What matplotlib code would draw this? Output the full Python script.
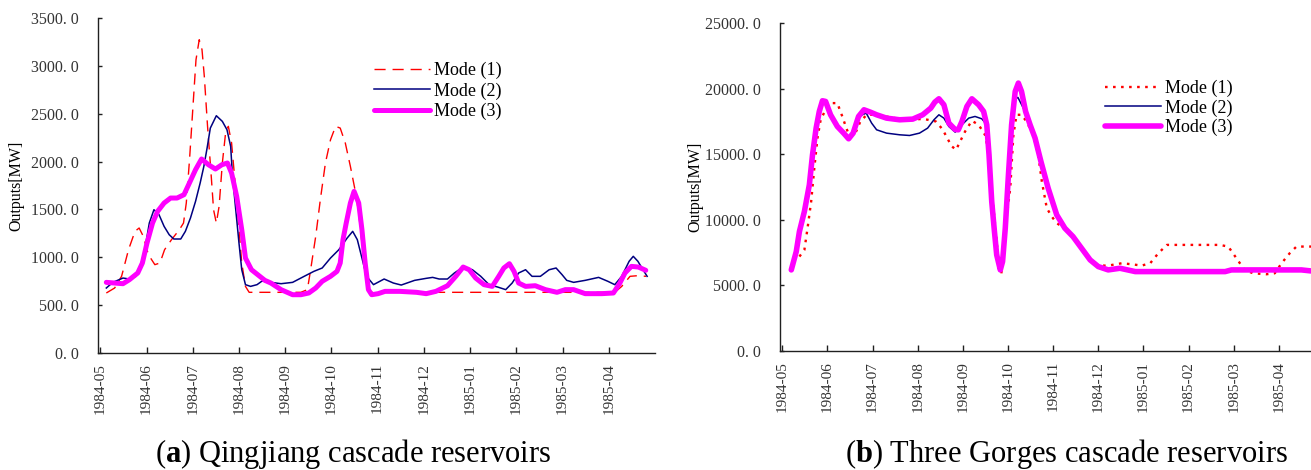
import matplotlib
matplotlib.use("Agg")
import matplotlib.pyplot as plt

plt.rcParams["font.family"] = ["Liberation Serif", "DejaVu Serif"]
plt.rcParams["mathtext.fontset"] = "custom"
plt.rcParams["mathtext.rm"] = "Liberation Serif"
plt.rcParams["mathtext.bf"] = "Liberation Serif:bold"

# ---- month labels (tick at the start of each month) ----
month_labels = ["1984-05", "1984-06", "1984-07", "1984-08", "1984-09", "1984-10",
                "1984-11", "1984-12", "1985-01", "1985-02", "1985-03", "1985-04"]

# ---- Qingjiang cascade reservoirs: time in months from 1984-05, outputs in MW ----
qj_mode1_t = [0.13, 0.31, 0.46, 0.61, 0.75, 0.84, 0.93, 1.04, 1.18, 1.29, 1.39, 1.54, 1.71,
              1.80, 1.86, 1.93, 2.00, 2.07, 2.14, 2.20, 2.25, 2.32, 2.39, 2.45, 2.51, 2.57,
              2.64, 2.71, 2.77, 2.84, 2.91, 2.99, 3.06, 3.14, 3.22, 3.36, 4.05, 4.34, 4.48,
              4.55, 4.66, 4.76, 4.87, 4.98, 5.09, 5.19, 5.30, 5.41, 5.51, 5.59, 5.66, 5.73,
              5.80, 5.87, 11.13, 11.28, 11.46, 11.63, 11.81]
qj_mode1_v = [627, 679, 801, 1079, 1271, 1306, 1219, 1027, 923, 940, 1079, 1184, 1288,
              1358, 1567, 2020, 2542, 3064, 3273, 3169, 2890, 2368, 1915, 1497, 1358, 1532,
              1985, 2298, 2368, 2194, 1811, 1358, 940, 696, 634, 634, 634, 634, 662,
              870, 1219, 1602, 1985, 2228, 2368, 2350, 2194, 1950, 1706, 1462, 1149, 836,
              644, 634, 634, 696, 801, 808, 801]

qj_mode2_t = [0.13, 0.27, 0.49, 0.63, 0.77, 0.84, 0.95, 1.06, 1.16, 1.27, 1.38, 1.49, 1.59,
              1.74, 1.84, 1.95, 2.06, 2.16, 2.24, 2.31, 2.38, 2.51, 2.64, 2.74, 2.82, 2.86,
              2.93, 3.00, 3.06, 3.14, 3.25, 3.39, 3.50, 3.69, 3.91, 4.16, 4.41, 4.62, 4.80,
              4.98, 5.16, 5.34, 5.46, 5.56, 5.66, 5.76, 5.91, 6.14, 6.34, 6.51, 6.80, 7.05,
              7.19, 7.33, 7.51, 7.66, 7.85, 8.05, 8.23, 8.41, 8.59, 8.77, 8.91, 9.05, 9.20,
              9.34, 9.52, 9.71, 9.86, 9.99, 10.09, 10.24, 10.49, 10.78, 10.98, 11.13, 11.28,
              11.44, 11.53, 11.63, 11.74, 11.83]
qj_mode2_v = [679, 738, 783, 773, 801, 870, 1045, 1358, 1497, 1445, 1323, 1236, 1191,
              1191, 1271, 1410, 1584, 1776, 1950, 2141, 2350, 2479, 2420, 2333, 2159, 1845,
              1497, 1149, 870, 714, 696, 714, 752, 738, 724, 738, 801, 853, 888,
              992, 1079, 1201, 1271, 1184, 992, 801, 714, 773, 731, 710, 759, 780,
              790, 773, 773, 836, 898, 870, 801, 714, 690, 662, 731, 836, 870,
              801, 801, 870, 888, 818, 759, 738, 759, 790, 749, 714, 801,
              958, 1010, 958, 870, 801]

qj_mode3_t = [0.13, 0.49, 0.63, 0.81, 0.91, 1.01, 1.13, 1.24, 1.38, 1.52, 1.66, 1.81, 1.91,
              2.06, 2.19, 2.34, 2.49, 2.63, 2.75, 2.84, 2.95, 3.06, 3.14, 3.27, 3.45, 3.56,
              3.69, 3.91, 4.16, 4.34, 4.51, 4.66, 4.80, 4.98, 5.12, 5.19, 5.25, 5.32, 5.41,
              5.49, 5.59, 5.66, 5.73, 5.80, 5.87, 6.01, 6.16, 6.48, 6.84, 7.05, 7.26, 7.51,
              7.69, 7.85, 7.98, 8.12, 8.30, 8.48, 8.62, 8.73, 8.85, 8.95, 9.05, 9.20, 9.41,
              9.63, 9.88, 10.06, 10.24, 10.49, 10.85, 11.10, 11.24, 11.35, 11.49, 11.64, 11.80]
qj_mode3_v = [738, 724, 766, 836, 940, 1149, 1358, 1480, 1567, 1619, 1619, 1654, 1758,
              1915, 2027, 1967, 1922, 1967, 1985, 1880, 1637, 1288, 992, 870, 801, 759,
              731, 662, 609, 609, 627, 679, 749, 801, 853, 940, 1184, 1358, 1567,
              1689, 1567, 1288, 940, 662, 609, 620, 644, 644, 634, 620, 644, 703,
              801, 898, 870, 783, 714, 696, 801, 888, 933, 853, 731, 696, 703,
              662, 634, 662, 662, 620, 620, 627, 731, 836, 905, 898, 864]

# ---- Three Gorges cascade reservoirs ----
tg_mode1_t = [0.38, 0.49, 0.56, 0.64, 0.71, 0.78, 0.85, 0.96, 1.11, 1.22, 1.33, 1.42, 1.49,
              1.62, 1.73, 1.87, 2.09, 2.50, 2.89, 3.15, 3.40, 3.55, 3.69, 3.76, 3.85, 3.94,
              4.05, 4.20, 4.35, 4.49, 4.57, 4.64, 4.73, 4.79, 4.85, 4.94, 5.05, 5.12, 5.19,
              5.30, 5.41, 5.56, 5.67, 5.75, 5.86, 5.97, 6.08, 6.26, 6.44, 6.63, 6.82, 7.00,
              7.22, 7.52, 7.74, 7.96, 8.15, 8.33, 8.52, 8.70, 9.07, 9.69, 9.88, 10.06, 10.24,
              10.43, 10.72, 10.91, 11.06, 11.24, 11.39, 11.74]
tg_mode1_v = [7197, 7705, 9358, 11393, 13936, 16224, 17623, 18386, 18894, 18894, 17877, 16987, 16352,
              16606, 17496, 18004, 18004, 17750, 17674, 17674, 17500, 16900, 16000, 15588, 15334, 15970,
              16733, 17547, 17241, 16479, 15207, 12156, 9104, 6815, 5798, 9358, 12410, 16479, 18004,
              18004, 17496, 16479, 14953, 12919, 10884, 10248, 9740, 9358, 8722, 7832, 6942, 6510,
              6510, 6688, 6612, 6510, 6688, 7451, 8087, 8087, 8087, 8087, 7960, 7070, 6180,
              5925, 5849, 5925, 6688, 7451, 7960, 7960]

tg_mode2_t = [0.20, 0.31, 0.38, 0.49, 0.60, 0.67, 0.75, 0.82, 0.89, 0.96, 1.07, 1.22, 1.36,
              1.47, 1.57, 1.69, 1.86, 1.98, 2.09, 2.31, 2.60, 2.82, 3.04, 3.22, 3.36, 3.47,
              3.58, 3.69, 3.83, 3.98, 4.13, 4.27, 4.42, 4.53, 4.58, 4.64, 4.70, 4.75, 4.83,
              4.88, 4.94, 5.01, 5.08, 5.16, 5.22, 5.34, 5.49, 5.60, 5.73, 5.89, 6.08, 6.26,
              6.44, 6.63, 6.82, 7.00, 7.22, 7.48, 7.82, 9.81, 9.95, 11.50, 11.71]
tg_mode2_v = [6180, 7578, 9104, 10630, 12664, 14953, 16987, 18259, 19073, 19022, 18004, 17114, 16606,
              16173, 16606, 17877, 18132, 17368, 16860, 16606, 16479, 16427, 16606, 16987, 17623, 18004,
              17750, 17114, 16682, 17241, 17750, 17877, 17699, 17241, 14953, 11393, 9104, 7324, 6180,
              6815, 9358, 13427, 17241, 19200, 19327, 18513, 17241, 16224, 14444, 12410, 10375, 9358,
              8722, 7832, 6942, 6434, 6180, 6307, 6052, 6052, 6180, 6180, 6103]

tg_mode3_t = [0.20, 0.31, 0.38, 0.49, 0.60, 0.67, 0.75, 0.82, 0.89, 0.96, 1.07, 1.22, 1.36,
              1.47, 1.57, 1.69, 1.81, 1.95, 2.09, 2.31, 2.60, 2.89, 3.11, 3.29, 3.38, 3.47,
              3.58, 3.69, 3.83, 3.90, 3.98, 4.09, 4.20, 4.35, 4.46, 4.53, 4.58, 4.64, 4.70,
              4.75, 4.83, 4.88, 4.94, 5.01, 5.08, 5.16, 5.23, 5.30, 5.39, 5.49, 5.60, 5.73,
              5.89, 6.08, 6.26, 6.44, 6.63, 6.82, 7.00, 7.22, 7.48, 7.82, 9.81, 9.95, 11.50, 11.71]
tg_mode3_v = [6180, 7578, 9104, 10630, 12664, 14953, 16987, 18259, 19073, 19022, 18004, 17114, 16606,
              16173, 16606, 17877, 18386, 18208, 18004, 17750, 17623, 17674, 18004, 18513, 18971, 19225,
              18767, 17368, 16880, 16860, 17496, 18640, 19225, 18767, 18259, 17241, 14953, 11393, 9104,
              7324, 6180, 6815, 9358, 13427, 17241, 19785, 20420, 19785, 18259, 17241, 16224, 14444,
              12410, 10375, 9358, 8722, 7832, 6942, 6434, 6180, 6307, 6052, 6052, 6180, 6180, 6103]

legend_labels = ["Mode (1)", "Mode (2)", "Mode (3)"]

RED, NAVY, MAGENTA = "#FF0000", "#000080", "#FF00FF"
W, H = 1311, 470

fig = plt.figure(figsize=(W / 100, H / 100), dpi=100)


def px_axes(left, top, right, bottom):
    return fig.add_axes([left / W, 1 - bottom / H, (right - left) / W, (bottom - top) / H])


def style_axes(ax, ymax, ystep, label_pad):
    ax.set_xlim(-0.05, 12.0)
    ax.set_ylim(0, ymax)
    for s in ("top", "right"):
        ax.spines[s].set_visible(False)
    for s in ("left", "bottom"):
        ax.spines[s].set_linewidth(1.0)
        ax.spines[s].set_color("#202020")
    ax.set_xticks(range(len(month_labels)))
    ax.set_xticklabels(month_labels, rotation=90, fontsize=11, color="#333333")
    yt = list(range(0, ymax + 1, ystep))
    ax.set_yticks(yt)
    ax.set_yticklabels(["%d. 0" % v for v in yt], fontsize=11.5, color="#333333")
    ax.tick_params(axis="x", direction="in", length=4, width=1.0, pad=7, color="#202020")
    ax.tick_params(axis="y", direction="in", length=3, width=1.0, pad=label_pad, color="#202020")
    ax.set_ylabel("Outputs[MW]", fontsize=11.5)


# (a) Qingjiang
ax1 = px_axes(98, 18, 655, 353)
ax1.plot(qj_mode1_t, qj_mode1_v, color=RED, lw=1.0, linestyle=(0, (8, 5)), label=legend_labels[0])
ax1.plot(qj_mode2_t, qj_mode2_v, color=NAVY, lw=1.1, label=legend_labels[1])
ax1.plot(qj_mode3_t, qj_mode3_v, color=MAGENTA, lw=3.6, solid_capstyle="round",
         solid_joinstyle="round", label=legend_labels[2])
style_axes(ax1, 3500, 500, 14)
ax1.yaxis.set_label_coords(-0.133, 0.5)

# (b) Three Gorges
ax2 = px_axes(780, 23, 1324, 351)
ax2.plot(tg_mode1_t, tg_mode1_v, color=RED, lw=1.7, linestyle=(0, (1.1, 2.3)), label=legend_labels[0])
ax2.plot(tg_mode2_t, tg_mode2_v, color=NAVY, lw=1.1, label=legend_labels[1])
ax2.plot(tg_mode3_t, tg_mode3_v, color=MAGENTA, lw=4.0, solid_capstyle="round",
         solid_joinstyle="round", label=legend_labels[2])
style_axes(ax2, 25000, 5000, 14)
ax2.yaxis.set_label_coords(-0.14, 0.5)

leg_kw = dict(frameon=False, fontsize=13, handlelength=3.1, handletextpad=0.2,
              borderpad=0, borderaxespad=0, loc="upper left")
fig.legend(*ax1.get_legend_handles_labels(), bbox_to_anchor=(374 / W, 1 - 62 / H),
           labelspacing=0.17, **leg_kw)
fig.legend(*ax2.get_legend_handles_labels(), bbox_to_anchor=(1105 / W, 1 - 80 / H),
           labelspacing=0.12, **leg_kw)

fig.text(353 / W, 1 - 462 / H, r"($\mathbf{a}$) Qingjiang cascade reservoirs",
         ha="center", va="baseline", fontsize=22)
fig.text(1066 / W, 1 - 462 / H, r"($\mathbf{b}$) Three Gorges cascade reservoirs",
         ha="center", va="baseline", fontsize=22)

fig.savefig("out.png", dpi=100)
